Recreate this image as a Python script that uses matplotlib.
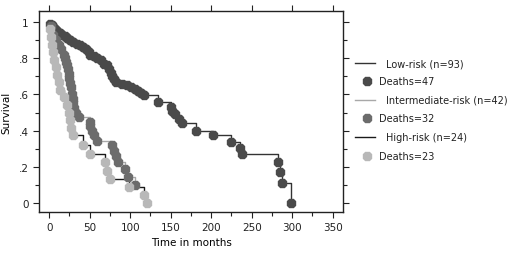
import matplotlib.pyplot as plt
from matplotlib.lines import Line2D
from matplotlib.ticker import MultipleLocator

# death times (months) and survival right after each death
low_t = [1, 3, 5, 7, 10, 13, 16, 19, 22, 26, 30, 34, 38, 42, 46, 49, 51, 55, 59,
         64, 68, 71, 74, 76, 78, 80, 82, 90, 96, 101, 106, 110, 114, 117, 135,
         150, 152, 155, 160, 164, 181, 202, 224, 236, 238, 282, 285, 287, 299]
low_s = [0.99, 0.98, 0.97, 0.96, 0.95, 0.94, 0.93, 0.92, 0.91, 0.90, 0.89, 0.88,
         0.87, 0.86, 0.85, 0.835, 0.82, 0.81, 0.80, 0.79, 0.77, 0.76, 0.74, 0.72,
         0.70, 0.685, 0.67, 0.66, 0.65, 0.64, 0.63, 0.62, 0.61, 0.595, 0.556,
         0.53, 0.51, 0.49, 0.465, 0.44, 0.40, 0.376, 0.339, 0.304, 0.27, 0.228,
         0.173, 0.114, 0.0]
low_end = 300

int_t = [2, 5, 8, 12, 15, 18, 20, 21, 22, 23, 24, 25, 26, 27, 28, 29, 30, 31, 33,
         37, 50, 51, 53, 55, 59, 78, 80, 82, 85, 94, 97, 106]
int_s = [0.975, 0.93, 0.90, 0.87, 0.85, 0.82, 0.80, 0.78, 0.76, 0.74, 0.71, 0.69,
         0.665, 0.64, 0.60, 0.575, 0.55, 0.525, 0.50, 0.475, 0.45, 0.425, 0.40,
         0.375, 0.345, 0.32, 0.29, 0.26, 0.23, 0.19, 0.145, 0.10]
int_end = 111

high_t = [0.5, 2, 3.5, 5, 6.5, 8, 10, 12, 14, 18, 22, 24, 26, 27, 29, 42, 50, 69,
          71, 75, 99, 117, 121]
high_s = [0.958, 0.917, 0.875, 0.833, 0.792, 0.75, 0.708, 0.667, 0.625, 0.583,
          0.542, 0.50, 0.458, 0.417, 0.375, 0.32, 0.27, 0.225, 0.18, 0.135, 0.09,
          0.045, 0.0]
high_end = 121

labels = ["Low-risk (n=93)", "Deaths=47", "Intermediate-risk (n=42)", "Deaths=32",
          "High-risk (n=24)", "Deaths=23"]

plt.rcParams["font.family"] = "DejaVu Sans"
fig = plt.figure(figsize=(5.2, 2.55), dpi=100)
ax = fig.add_axes([0.075, 0.165, 0.585, 0.788])

groups = [
    (low_t, low_s, low_end, "#333333", "#4a4a4a"),
    (int_t, int_s, int_end, "#a8a8a8", "#6c6c6c"),
    (high_t, high_s, high_end, "#1a1a1a", "#b8b8b8"),
]
for t, s, end, lc, mc in groups:
    xs = [0] + t + [end]
    ys = [1.0] + s + [s[-1]]
    ax.plot(xs, ys, drawstyle="steps-post", color=lc, lw=1, zorder=2)
    ax.plot(t, s, ls="none", marker="8", ms=6.2, color=mc, mec=mc, zorder=3)

ax.set_xlim(-12.5, 363)
ax.set_ylim(-0.048, 1.06)
ax.xaxis.set_major_locator(MultipleLocator(50))
ax.xaxis.set_minor_locator(MultipleLocator(25))
ax.yaxis.set_minor_locator(MultipleLocator(0.1))
ax.set_yticks([0, 0.2, 0.4, 0.6, 0.8, 1.0])
ax.set_yticklabels(["0", ".2", ".4", ".6", ".8", "1"])
ax.tick_params(which="both", direction="out", top=True, right=True,
               labelsize=7.5, colors="#222222", width=0.8)
ax.tick_params(which="major", length=4)
ax.tick_params(which="minor", length=3, top=False)
for sp in ax.spines.values():
    sp.set_color("#222222")
    sp.set_linewidth(1)
ax.set_xlabel("Time in months", fontsize=7.5, labelpad=3)
ax.set_ylabel("Survival", fontsize=7.5, labelpad=5)

# legend at the right
line_cols = ["#333333", "#a8a8a8", "#1a1a1a"]
mark_cols = ["#4a4a4a", "#6c6c6c", "#b8b8b8"]
row_y = [64.3, 82.3, 100.7, 119.3, 137.7, 156.7]
for i, lab in enumerate(labels):
    yf = 1 - row_y[i] / 255
    if i % 2 == 0:
        fig.add_artist(Line2D([355 / 520, 375 / 520], [yf, yf],
                              color=line_cols[i // 2], lw=1))
        fig.text(386 / 520, yf, lab, fontsize=7, va="center", color="#222222")
    else:
        fig.add_artist(Line2D([367 / 520], [yf], marker="8", ms=6,
                              color=mark_cols[i // 2], ls="none"))
        fig.text(379 / 520, yf, lab, fontsize=7, va="center", color="#222222")

fig.savefig("out.png", dpi=100)
